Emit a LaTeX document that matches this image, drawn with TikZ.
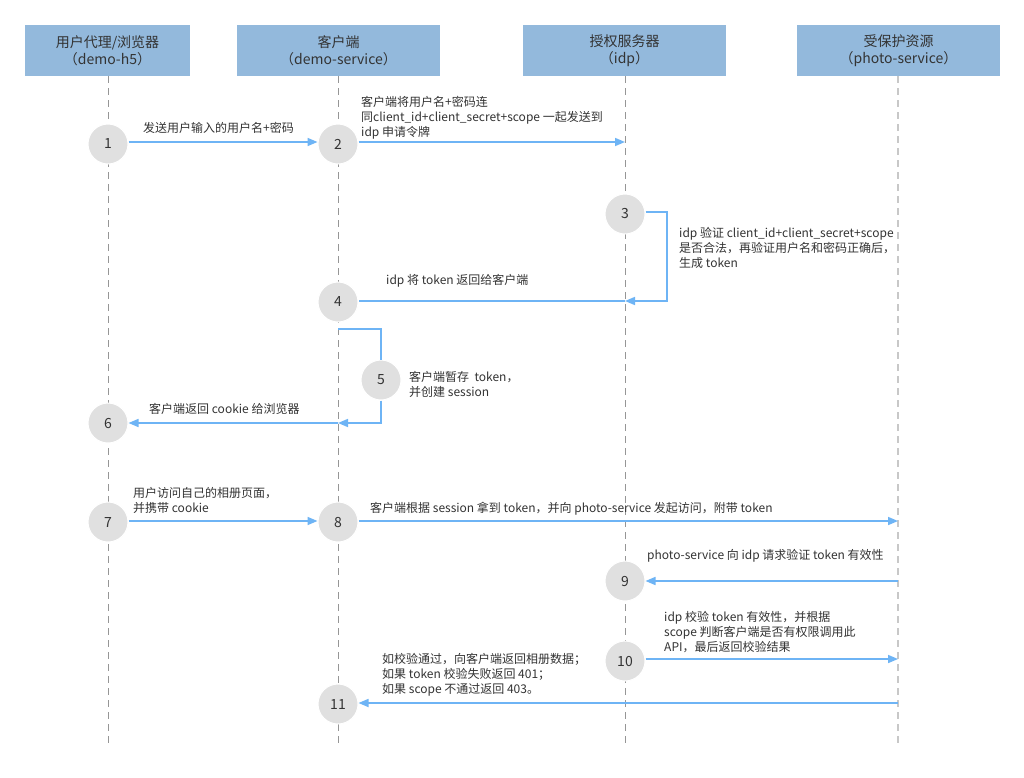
\documentclass[tikz,border=0pt]{standalone}
\usepackage{fontspec}
\setmainfont{Noto Sans CJK SC}
\usetikzlibrary{arrows.meta}
\definecolor{hdr}{RGB}{147,185,220}
\definecolor{arr}{RGB}{110,180,245}
\definecolor{circ}{RGB}{224,224,224}
\definecolor{txt}{RGB}{51,51,51}
\definecolor{life}{RGB}{150,150,150}
\definecolor{lifel}{RGB}{200,200,200}
\tikzset{
  header/.style={fill=hdr, minimum height=51pt, inner sep=0pt, align=center, text=txt,
    font=\fontsize{14}{17}\selectfont},
  lifeline/.style={draw=life, line width=0.9pt, dash pattern=on 7pt off 5pt},
  lifelinelight/.style={draw=lifel, line width=1.8pt, dash pattern=on 7pt off 5pt},
  stepcirc/.style={circle, fill=circ, draw=white, line width=1pt, minimum size=40pt, inner sep=0pt,
    text=txt, font=\fontsize{14}{15}\selectfont},
  msg/.style={draw=arr, line width=1.6pt},
  msgarrow/.style={msg, -{Triangle[length=10pt,width=8pt]}},
  lbl/.style={anchor=west, inner sep=0pt, align=left, text=txt, font=\fontsize{12}{15}\selectfont},
}
\begin{document}
\begin{tikzpicture}[x=1pt, y=-1pt]
\useasboundingbox[fill=white] (0,0) rectangle (1024,777);
% headers
\node[header, minimum width=165pt] (h1) at (107.5,50.5) {用户代理/浏览器\\（demo-h5）};
\node[header, minimum width=203pt] (h2) at (338.5,50.5) {客户端\\（demo-service）};
\node[header, minimum width=203pt] (h3) at (624.5,50.5) {授权服务器\\（idp）};
\node[header, minimum width=203pt] (h4) at (898.5,50.5) {受保护资源\\（photo-service）};
% lifeline ends
\coordinate (e1) at (108,746);
\coordinate (e2) at (338,746);
\coordinate (e3) at (625,746);
\coordinate (e4) at (898,746);
\draw[lifeline] (h1.south -| e1) -- (e1);
\draw[lifeline] (h2.south -| e2) -- (e2);
\draw[lifeline] (h3.south -| e3) -- (e3);
\draw[lifelinelight] (h4.south -| e4) -- (e4);
% step circles
\node[stepcirc] (c1) at (108,144) {1};
\node[stepcirc] (c2) at (338,144) {2};
\node[stepcirc] (c3) at (625,214) {3};
\node[stepcirc] (c4) at (338,302) {4};
\node[stepcirc] (c5) at (381,380) {5};
\node[stepcirc] (c6) at (108,423) {6};
\node[stepcirc] (c7) at (108,522) {7};
\node[stepcirc] (c8) at (338,522) {8};
\node[stepcirc] (c9) at (625,581) {9};
\node[stepcirc] (c10) at (625,661) {10};
\node[stepcirc] (c11) at (338,704) {11};
% free ends on lifelines
\coordinate (p2) at (625,142);
\coordinate (p3b) at (667,212);
\coordinate (p3c) at (667,301);
\coordinate (p3) at (625,301);
\coordinate (p5a) at (338,329);
\coordinate (p5b) at (381,329);
\coordinate (p5c) at (381,423);
\coordinate (p5) at (338,423);
\coordinate (p8) at (898,521);
\coordinate (p9) at (898,581);
\coordinate (p10) at (898,659);
\coordinate (p11) at (898,703);
% connectors
\draw[msgarrow] (c1.east |- 0,142) -- (c2.west |- 0,142);
\draw[msgarrow] (c2.east |- p2) -- (p2);
\draw[msgarrow] (c3.east |- p3b) -- (p3b) -- (p3c) -- (p3);
\draw[msg] (p3) -- (c4.east |- p3);
\draw[msg] (p5a) -- (p5b) -- (c5.north);
\draw[msgarrow] (c5.south) -- (p5c) -- (p5);
\draw[msgarrow] (p5) -- (c6.east |- p5);
\draw[msgarrow] (c7.east |- p8) -- (c8.west |- p8);
\draw[msgarrow] (c8.east |- p8) -- (p8);
\draw[msgarrow] (p9) -- (c9.east);
\draw[msgarrow] (c10.east |- p10) -- (p10);
\draw[msgarrow] (p11) -- (c11.east |- p11);
% labels
\node[lbl] (t1) at (143,128) {发送用户输入的用户名+密码};
\node[lbl] (t2) at (361,118) {客户端将用户名+密码连\\同client\_id+client\_secret+scope 一起发送到\\idp 申请令牌};
\node[lbl] (t3) at (679,248) {idp 验证 client\_id+client\_secret+scope\\是否合法，再验证用户名和密码正确后，\\生成 token};
\node[lbl] (t4) at (386,281) {idp 将 token 返回给客户端};
\node[lbl] (t5) at (409,384.5) {客户端暂存\ \ token，\\并创建 session};
\node[lbl] (t6) at (149,409) {客户端返回 cookie 给浏览器};
\node[lbl] (t7) at (133,500.5) {用户访问自己的相册页面，\\并携带 cookie};
\node[lbl] (t8) at (370,509) {客户端根据 session 拿到 token，并向 photo-service 发起访问，附带 token};
\node[lbl] (t9) at (647,556) {photo-service 向 idp 请求验证 token 有效性};
\node[lbl] (t10) at (664,632) {idp 校验 token 有效性，并根据\\scope 判断客户端是否有权限调用此\\API，最后返回校验结果};
\node[lbl] (t11) at (382,675) {如校验通过，向客户端返回相册数据；\\如果 token 校验失败返回 401；\\如果 scope 不通过返回 403。};
\end{tikzpicture}
\end{document}
